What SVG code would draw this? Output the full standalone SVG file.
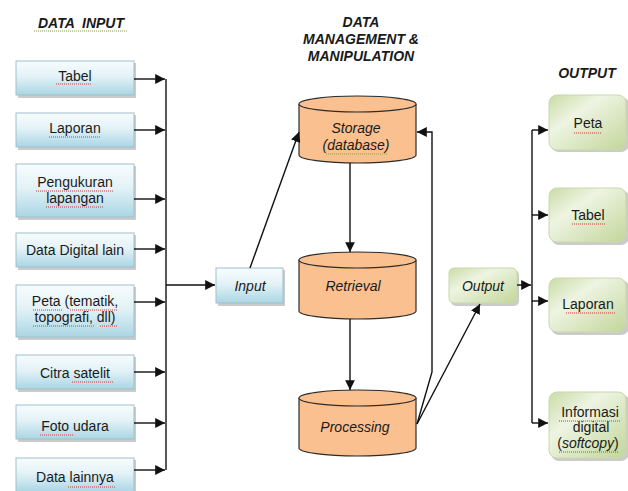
<svg xmlns="http://www.w3.org/2000/svg" width="628" height="491" viewBox="0 0 628 491">
  <style>
    .hdr { font-family: "Liberation Sans", Arial, sans-serif; font-size: 14px; font-weight: bold; font-style: italic; fill: #1a1a1a; text-anchor: middle; }
    .lbl { font-family: "Liberation Sans", Arial, sans-serif; font-size: 14px; fill: #1a1a1a; text-anchor: middle; }
    .it { font-style: italic; }
    .bluebox { fill: url(#blueFill); stroke: #9fbfcc; stroke-width: 1; }
    .greenbox { fill: url(#greenFill); stroke: #c9d8ad; stroke-width: 1; }
    .shadow { fill: #8c8c8c; opacity: 0.45; }
    .cyl { fill: #fac08f; stroke: #2b2b2b; stroke-width: 1.2; }
    .line { fill: none; stroke: #111; stroke-width: 1.4; }
    .arrow { fill: none; stroke: #111; stroke-width: 1.4; marker-end: url(#head); }
    .squig { fill: none; stroke: #d23a3a; stroke-width: 1; stroke-dasharray: 1 1; }
    .squigG { fill: none; stroke: #8aa23a; stroke-width: 1; stroke-dasharray: 1 1; }
  </style>
  <defs>
    <marker id="head" viewBox="0 0 10 10" refX="10" refY="5" markerWidth="7" markerHeight="7" orient="auto" markerUnits="strokeWidth">
      <path d="M0,0 L10,5 L0,10 z" fill="#111"/>
    </marker>
    <linearGradient id="blueFill" x1="0" y1="0" x2="0" y2="1">
      <stop offset="0" stop-color="#f7fcfd"/>
      <stop offset="0.45" stop-color="#e3f2f7"/>
      <stop offset="1" stop-color="#aad6e4"/>
    </linearGradient>
    <linearGradient id="greenFill" x1="0" y1="0" x2="1" y2="1">
      <stop offset="0" stop-color="#c9dca6"/>
      <stop offset="0.35" stop-color="#eef4e2"/>
      <stop offset="1" stop-color="#c2d69a"/>
    </linearGradient>
  </defs>
  <rect width="628" height="491" fill="#ffffff"/>

  <!-- Column headings -->
  <g id="headings">
    <text class="hdr" x="81" y="28" xml:space="preserve" style="white-space: pre">DATA  INPUT</text>
    <path class="squigG" d="M34,31 H128"/>
    <text class="hdr" x="361" y="27">DATA</text>
    <text class="hdr" x="361" y="44">MANAGEMENT &amp;</text>
    <text class="hdr" x="361" y="61">MANIPULATION</text>
    <text class="hdr" x="587" y="78">OUTPUT</text>
  </g>

  <!-- Data input sources -->
  <g id="src-tabel">
    <rect class="shadow" x="18" y="63" width="118" height="35"/>
    <rect class="bluebox" x="16" y="61" width="118" height="34"/>
    <text class="lbl" x="75" y="81">Tabel</text>
    <path class="squig" d="M56,84 H92"/>
  </g>
  <g id="src-laporan">
    <rect class="shadow" x="18" y="115" width="118" height="35"/>
    <rect class="bluebox" x="16" y="113" width="118" height="34"/>
    <text class="lbl" x="75" y="133">Laporan</text>
    <path class="squig" d="M49,137 H101"/>
  </g>
  <g id="src-pengukuran">
    <rect class="shadow" x="18" y="166" width="118" height="54"/>
    <rect class="bluebox" x="16" y="164" width="118" height="53"/>
    <text class="lbl" x="75" y="187">Pengukuran</text>
    <text class="lbl" x="75" y="203">lapangan</text>
    <path class="squig" d="M36,191 H114 M46,207 H104"/>
  </g>
  <g id="src-digital">
    <rect class="shadow" x="18" y="235" width="118" height="35"/>
    <rect class="bluebox" x="16" y="233" width="118" height="34"/>
    <text class="lbl" x="75" y="255">Data Digital lain</text>
  </g>
  <g id="src-peta">
    <rect class="shadow" x="18" y="287" width="118" height="53"/>
    <rect class="bluebox" x="16" y="285" width="118" height="52"/>
    <text class="lbl" x="75" y="306">Peta (tematik,</text>
    <text class="lbl" x="75" y="322">topografi, dll)</text>
    <path class="squig" d="M33,310 H63 M70,310 H117 M33,326 H94 M100,326 H118"/>
  </g>
  <g id="src-citra">
    <rect class="shadow" x="18" y="357" width="118" height="35"/>
    <rect class="bluebox" x="16" y="355" width="118" height="34"/>
    <text class="lbl" x="75" y="378">Citra satelit</text>
    <path class="squig" d="M72,382 H113"/>
  </g>
  <g id="src-foto">
    <rect class="shadow" x="18" y="407" width="118" height="35"/>
    <rect class="bluebox" x="16" y="405" width="118" height="34"/>
    <text class="lbl" x="75" y="431">Foto udara</text>
    <path class="squig" d="M40,435 H73"/>
  </g>
  <g id="src-lainnya">
    <rect class="shadow" x="18" y="460" width="118" height="35"/>
    <rect class="bluebox" x="16" y="458" width="118" height="34"/>
    <text class="lbl" x="75" y="482">Data lainnya</text>
    <path class="squig" d="M68,487 H115"/>
  </g>

  <!-- Input node -->
  <g id="input">
    <rect class="shadow" x="218" y="270" width="67" height="36"/>
    <rect class="bluebox" x="216" y="268" width="67" height="35"/>
    <text class="lbl it" x="250" y="291">Input</text>
  </g>

  <!-- Data management cylinders -->
  <g id="storage">
    <path class="cyl" d="M299,104 V155 A58.5,8 0 0 0 416,155 V104"/>
    <ellipse class="cyl" cx="357.5" cy="104" rx="58.5" ry="8"/>
    <text class="lbl it" x="356" y="133">Storage</text>
    <text class="lbl it" x="356" y="150">(database)</text>
    <path class="squigG" d="M326,154 H387"/>
  </g>
  <g id="retrieval">
    <path class="cyl" d="M299,260 V311 A58.5,8 0 0 0 416,311 V260"/>
    <ellipse class="cyl" cx="357.5" cy="260" rx="58.5" ry="8"/>
    <text class="lbl it" x="353" y="291">Retrieval</text>
  </g>
  <g id="processing">
    <path class="cyl" d="M299,398 V448 A58.5,8 0 0 0 416,448 V398"/>
    <ellipse class="cyl" cx="357.5" cy="398" rx="58.5" ry="8"/>
    <text class="lbl it" x="355" y="432">Processing</text>
  </g>

  <!-- Output node -->
  <g id="output">
    <rect class="shadow" x="451" y="270" width="68" height="36" rx="5"/>
    <rect class="greenbox" x="449" y="268" width="68" height="35" rx="5"/>
    <text class="lbl it" x="483" y="291">Output</text>
  </g>

  <!-- Output products -->
  <g id="out-peta">
    <rect class="shadow" x="551" y="97" width="78" height="55" rx="8"/>
    <rect class="greenbox" x="549" y="95" width="77" height="55" rx="8"/>
    <text class="lbl" x="588" y="128">Peta</text>
    <path class="squig" d="M574,133 H602"/>
  </g>
  <g id="out-tabel">
    <rect class="shadow" x="551" y="190" width="78" height="55" rx="8"/>
    <rect class="greenbox" x="549" y="188" width="77" height="54" rx="8"/>
    <text class="lbl" x="588" y="220">Tabel</text>
    <path class="squig" d="M572,224 H606"/>
  </g>
  <g id="out-laporan">
    <rect class="shadow" x="551" y="280" width="78" height="55" rx="8"/>
    <rect class="greenbox" x="549" y="278" width="77" height="54" rx="8"/>
    <text class="lbl" x="588" y="309">Laporan</text>
    <path class="squig" d="M566,313 H616"/>
  </g>
  <g id="out-informasi">
    <rect class="shadow" x="551" y="394" width="78" height="67" rx="8"/>
    <rect class="greenbox" x="549" y="392" width="77" height="66" rx="8"/>
    <text class="lbl" x="590" y="417">Informasi</text>
    <text class="lbl" x="591" y="432">digital</text>
    <text class="lbl" x="588" y="448">(<tspan class="it">softcopy</tspan>)</text>
    <path class="squig" d="M559,421 H621 M559,452 H619"/>
  </g>

  <!-- Connectors -->
  <g id="connectors">
    <path class="arrow" d="M134,79 H165"/>
    <path class="arrow" d="M134,130 H165"/>
    <path class="arrow" d="M134,199 H165"/>
    <path class="arrow" d="M134,249 H165"/>
    <path class="arrow" d="M134,302 H165"/>
    <path class="arrow" d="M134,372 H165"/>
    <path class="arrow" d="M134,423 H165"/>
    <path class="arrow" d="M134,470 H165"/>
    <path class="line" d="M166,79 V470"/>
    <path class="arrow" d="M166,285 H215"/>
    <path class="arrow" d="M250,268 L299,132"/>
    <path class="arrow" d="M350,163 V252"/>
    <path class="arrow" d="M350,319 V390"/>
    <path class="arrow" d="M417,424 L432,372 V132 H417"/>
    <path class="arrow" d="M417,424 L480,304"/>
    <path class="arrow" d="M517,285 H531"/>
    <path class="line" d="M532,130 V423"/>
    <path class="arrow" d="M532,130 H548"/>
    <path class="arrow" d="M532,215 H548"/>
    <path class="arrow" d="M532,301 H548"/>
    <path class="arrow" d="M532,423 H548"/>
  </g>
</svg>
